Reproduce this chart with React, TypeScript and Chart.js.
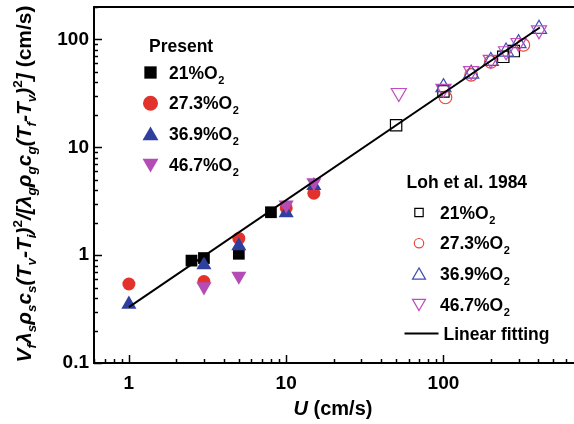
import { useEffect, useRef } from 'react';
import { Chart, registerables } from 'chart.js';
Chart.register(...registerables);

// ---------- axis ranges & tick labels ----------
const X_MIN = 0.6;
const X_MAX = 676;
const Y_MIN = 0.1;
const Y_MAX = 200;
const xMajorTicks = [1, 10, 100];
const yMajorTicks = [0.1, 1, 10, 100];
const minorMultipliers = [1, 2, 3, 4, 5, 6, 7, 8, 9];

// ---------- Present (filled markers) ----------
const present21X = [2.5, 3, 5, 8];
const present21Y = [0.89, 0.94, 1.03, 2.5];
const present273X = [1, 3, 5, 10, 15];
const present273Y = [0.54, 0.57, 1.43, 2.74, 3.75];
const present369X = [1, 3, 5, 10, 15];
const present369Y = [0.35, 0.81, 1.22, 2.46, 4.4];
const present467X = [3, 5, 10, 15];
const present467Y = [0.51, 0.64, 2.92, 4.7];

// ---------- Loh et al. 1984 (open markers) ----------
const loh21X = [50, 100, 240, 280];
const loh21Y = [16, 33, 69, 78];
const loh273X = [103, 150, 200, 322];
const loh273Y = [29, 47, 62, 89];
const loh369X = [100, 150, 200, 250, 300, 405];
const loh369Y = [36, 48, 63, 77, 92, 125];
const loh467X = [52, 100, 150, 200, 250, 300, 405];
const loh467Y = [32, 35, 51, 65, 78, 93, 122];

// ---------- Linear fitting ----------
const fitX = [1, 410];
const fitY = [0.33, 129];

// ---------- labels ----------
const presentTitle = 'Present';
const lohTitle = 'Loh et al. 1984';
const seriesLabels = ['21%O₂', '27.3%O₂', '36.9%O₂', '46.7%O₂'];
const fitLabel = 'Linear fitting';
const xTitleItalic = 'U';
const xTitleRest = ' (cm/s)';
// [text, kind (n=normal, b=subscript, p=superscript), italic]
const yTitleSegments: [string, string, boolean][] = [
  ['V', 'n', true], ['f', 'b', true], ['λ', 'n', true], ['s', 'b', true],
  ['ρ', 'n', true], ['s', 'b', true], ['c', 'n', true], ['s', 'b', true],
  ['(T', 'n', true], ['v', 'b', true], ['-T', 'n', true], ['i', 'b', true],
  [')', 'n', true], ['2', 'p', false], ['/[λ', 'n', true], ['g', 'b', true],
  ['ρ', 'n', true], ['g', 'b', true], ['c', 'n', true], ['g', 'b', true],
  ['(T', 'n', true], ['f', 'b', true], ['-T', 'n', true], ['v', 'b', true],
  [')', 'n', true], ['2', 'p', false], [']', 'n', true], [' (cm/s)', 'n', false],
];

const FONT = '"Liberation Sans", Arial, Helvetica, sans-serif';
const COLORS = {
  black: '#000000',
  red: '#E3322B',
  blue: '#2F3F9E',
  purple: '#B54BB5',
  oRed: '#E8453C',
  oBlue: '#3F4FB0',
  oPurple: '#C04CC0',
};

function isMajor(v: number) {
  const l = Math.log10(v);
  return Math.abs(l - Math.round(l)) < 1e-9;
}
function logTicks(min: number, max: number) {
  const out: number[] = [];
  for (let e = Math.floor(Math.log10(min)); e <= Math.ceil(Math.log10(max)); e++) {
    for (const k of minorMultipliers) {
      const v = parseFloat((k * Math.pow(10, e)).toPrecision(6));
      if (v >= min * 0.9999 && v <= max * 1.0001) out.push(v);
    }
  }
  return out;
}
const pts = (xs: number[], ys: number[]) => xs.map((x, i) => ({ x, y: ys[i] }));

function drawMarker(ctx: CanvasRenderingContext2D, style: string, x: number, y: number, r: number, rot: number, fill: string, stroke: string, lw: number) {
  ctx.save();
  ctx.beginPath();
  if (style === 'rect') {
    const s = r / Math.SQRT2;
    ctx.rect(x - s, y - s, 2 * s, 2 * s);
  } else if (style === 'circle') {
    ctx.arc(x, y, r, 0, Math.PI * 2);
  } else {
    const a0 = (rot * Math.PI) / 180;
    for (let i = 0; i < 3; i++) {
      const a = a0 + (i * 2 * Math.PI) / 3;
      const px = x + Math.sin(a) * r;
      const py = y - Math.cos(a) * r;
      if (i === 0) ctx.moveTo(px, py); else ctx.lineTo(px, py);
    }
    ctx.closePath();
  }
  if (fill && fill !== 'transparent') { ctx.fillStyle = fill; ctx.fill(); }
  if (lw > 0) { ctx.strokeStyle = stroke; ctx.lineWidth = lw; ctx.stroke(); }
  ctx.restore();
}

function drawSubLabel(ctx: CanvasRenderingContext2D, text: string, x: number, baseline: number, size: number) {
  const parts = text.split('₂');
  ctx.textBaseline = 'alphabetic';
  ctx.textAlign = 'left';
  ctx.fillStyle = '#000';
  let cx = x;
  parts.forEach((p, i) => {
    ctx.font = `bold ${size}px ${FONT}`;
    ctx.fillText(p, cx, baseline);
    cx += ctx.measureText(p).width;
    if (i < parts.length - 1) {
      ctx.font = `bold ${Math.round(size * 0.62)}px ${FONT}`;
      ctx.fillText('2', cx + 0.5, baseline + 5);
      cx += ctx.measureText('2').width + 0.5;
    }
  });
}

const decorPlugin = {
  id: 'decor',
  afterDraw(chart: any) {
    const ctx: CanvasRenderingContext2D = chart.ctx;
    const { left, top, bottom } = chart.chartArea;
    const xs = chart.scales.x;
    const ys = chart.scales.y;
    ctx.save();
    // top frame line
    ctx.strokeStyle = '#000';
    ctx.lineWidth = 2;
    ctx.beginPath();
    ctx.moveTo(left - 1, top);
    ctx.lineTo(chart.width, top);
    ctx.stroke();
    // inward ticks
    ctx.lineWidth = 1.5;
    xs.ticks.forEach((t: any) => {
      const px = Math.round(xs.getPixelForValue(t.value)) + 0.5;
      const len = isMajor(t.value) ? 8 : 4;
      ctx.beginPath();
      ctx.moveTo(px, bottom);
      ctx.lineTo(px, bottom - len);
      ctx.stroke();
    });
    ys.ticks.forEach((t: any) => {
      const py = Math.round(ys.getPixelForValue(t.value)) + 0.5;
      const len = isMajor(t.value) ? 8 : 4;
      ctx.beginPath();
      ctx.moveTo(left, py);
      ctx.lineTo(left + len, py);
      ctx.stroke();
    });

    // x title
    ctx.fillStyle = '#000';
    ctx.textBaseline = 'alphabetic';
    ctx.textAlign = 'left';
    ctx.font = `italic bold 20px ${FONT}`;
    const wU = ctx.measureText(xTitleItalic).width;
    ctx.font = `bold 20px ${FONT}`;
    const wR = ctx.measureText(xTitleRest).width;
    const xc = 333;
    const xx = xc - (wU + wR) / 2;
    ctx.font = `italic bold 20px ${FONT}`;
    ctx.fillText(xTitleItalic, xx, 415);
    ctx.font = `bold 20px ${FONT}`;
    ctx.fillText(xTitleRest, xx + wU, 415);

    // y title (rotated, with sub/superscripts)
    const mainSize = 21;
    const subSize = 13.5;
    const fontFor = (k: string, it: boolean) =>
      `${it ? 'italic ' : ''}bold ${k === 'n' ? mainSize : subSize}px ${FONT}`;
    let total = 0;
    yTitleSegments.forEach(([t, k, it]) => {
      ctx.font = fontFor(k, it);
      total += ctx.measureText(t).width;
    });
    ctx.save();
    ctx.translate(31, 184);
    ctx.rotate(-Math.PI / 2);
    let cx = -total / 2;
    yTitleSegments.forEach(([t, k, it]) => {
      ctx.font = fontFor(k, it);
      const dy = k === 'b' ? 5 : k === 'p' ? -9 : 0;
      ctx.fillText(t, cx, dy);
      cx += ctx.measureText(t).width;
    });
    ctx.restore();

    // legends
    const ds = chart.data.datasets;
    ctx.font = `bold 17.5px ${FONT}`;
    ctx.fillText(presentTitle, 149, 52);
    for (let i = 0; i < 4; i++) {
      const d = ds[i];
      const y = 72.5 + i * 30.8;
      const r = d.pointStyle === 'rect' ? 8.7 : d.pointStyle === 'circle' ? 7.5 : 9.2;
      drawMarker(ctx, d.pointStyle, 150.5, y + (d.pointStyle === 'triangle' ? (d.pointRotation ? -1.5 : 1.5) : 0), r, d.pointRotation || 0, d.backgroundColor, d.borderColor, 0);
      drawSubLabel(ctx, seriesLabels[i], 169, y + 6, 17.5);
    }
    ctx.font = `bold 17.5px ${FONT}`;
    ctx.fillStyle = '#000';
    ctx.fillText(lohTitle, 406.5, 187.5);
    for (let i = 0; i < 4; i++) {
      const d = ds[4 + i];
      const y = 212.5 + i * 30.7;
      const r = d.pointStyle === 'rect' ? 5.9 : d.pointStyle === 'circle' ? 4.7 : 7.5;
      drawMarker(ctx, d.pointStyle, 419, y + (d.pointStyle === 'triangle' ? (d.pointRotation ? -1.5 : 1.5) : 0), r, d.pointRotation || 0, 'transparent', d.borderColor, 1.2);
      drawSubLabel(ctx, seriesLabels[i], 440, y + 6, 17.5);
    }
    const fit = ds[8];
    ctx.strokeStyle = fit.borderColor;
    ctx.lineWidth = 2;
    ctx.beginPath();
    ctx.moveTo(404.5, 333.5);
    ctx.lineTo(438.5, 333.5);
    ctx.stroke();
    ctx.font = `bold 17.5px ${FONT}`;
    ctx.fillStyle = '#000';
    ctx.fillText(fitLabel, 443.5, 340);
    ctx.restore();
  },
};

export default function App() {
  const ref = useRef<HTMLCanvasElement | null>(null);
  useEffect(() => {
    if (!ref.current) return;
    const filled = (label: string, xs: number[], ys: number[], color: string, style: string, r: number, rot: number, order: number) => ({
      type: 'scatter' as const,
      label,
      data: pts(xs, ys),
      pointStyle: style,
      pointRadius: r,
      pointRotation: rot,
      backgroundColor: color,
      borderColor: color,
      pointBorderWidth: 0,
      order,
    });
    const open = (label: string, xs: number[], ys: number[], color: string, style: string, r: number, rot: number, order: number) => ({
      type: 'scatter' as const,
      label,
      data: pts(xs, ys),
      pointStyle: style,
      pointRadius: r,
      pointRotation: rot,
      backgroundColor: 'transparent',
      borderColor: color,
      pointBorderWidth: 1.2,
      order,
    });
    const chart = new Chart(ref.current, {
      type: 'scatter',
      data: {
        datasets: [
          filled(seriesLabels[0], present21X, present21Y, COLORS.black, 'rect', 8.3, 0, 4),
          filled(seriesLabels[1], present273X, present273Y, COLORS.red, 'circle', 6.5, 0, 3),
          filled(seriesLabels[2], present369X, present369Y, COLORS.blue, 'triangle', 8.7, 0, 2),
          filled(seriesLabels[3], present467X, present467Y, COLORS.purple, 'triangle', 8.7, 180, 1),
          open(seriesLabels[0], loh21X, loh21Y, COLORS.black, 'rect', 8, 0, 4),
          open(seriesLabels[1], loh273X, loh273Y, COLORS.oRed, 'circle', 6.3, 0, 3),
          open(seriesLabels[2], loh369X, loh369Y, COLORS.oBlue, 'triangle', 8.7, 0, 2),
          open(seriesLabels[3], loh467X, loh467Y, COLORS.oPurple, 'triangle', 8.7, 180, 1),
          {
            type: 'scatter' as const,
            label: fitLabel,
            data: pts(fitX, fitY),
            showLine: true,
            borderColor: '#000',
            backgroundColor: '#000',
            borderWidth: 2,
            pointRadius: 0,
            order: 0,
          } as any,
        ] as any,
      },
      options: {
        responsive: false,
        animation: false,
        devicePixelRatio: 1,
        layout: { autoPadding: false, padding: { left: 0, right: 0, top: 7, bottom: 0 } },
        plugins: { legend: { display: false }, tooltip: { enabled: false } },
        scales: {
          x: {
            type: 'logarithmic',
            min: X_MIN,
            max: X_MAX,
            bounds: 'data',
            grid: { display: false, drawTicks: false },
            border: { display: true, color: '#000', width: 2 },
            afterBuildTicks: (s: any) => { s.ticks = logTicks(X_MIN, X_MAX).map((v) => ({ value: v })); },
            afterFit: (s: any) => { s.height = 61; s.paddingLeft = 0; s.paddingRight = 0; },
            ticks: {
              autoSkip: false,
              maxRotation: 0,
              padding: 9,
              color: '#000',
              font: { family: FONT, size: 19, weight: 'bold' },
              callback: (v: any) => (xMajorTicks.includes(v) ? String(v) : ''),
            },
          },
          y: {
            type: 'logarithmic',
            min: Y_MIN,
            max: Y_MAX,
            bounds: 'data',
            grid: { display: false, drawTicks: false },
            border: { display: true, color: '#000', width: 2 },
            afterBuildTicks: (s: any) => { s.ticks = logTicks(Y_MIN, Y_MAX).map((v) => ({ value: v })); },
            afterFit: (s: any) => { s.width = 94; s.paddingTop = 0; s.paddingBottom = 0; },
            ticks: {
              autoSkip: false,
              padding: 5,
              color: '#000',
              font: { family: FONT, size: 19, weight: 'bold' },
              callback: (v: any) => (yMajorTicks.includes(v) ? String(v) : ''),
            },
          },
        },
      } as any,
      plugins: [decorPlugin as any],
    });
    return () => chart.destroy();
  }, []);
  return (
    <div style={{ position: 'fixed', left: 0, top: 0, width: 574, height: 424, background: '#fff' }}>
      <canvas ref={ref} width={574} height={424} style={{ width: 574, height: 424, display: 'block' }} />
    </div>
  );
}
